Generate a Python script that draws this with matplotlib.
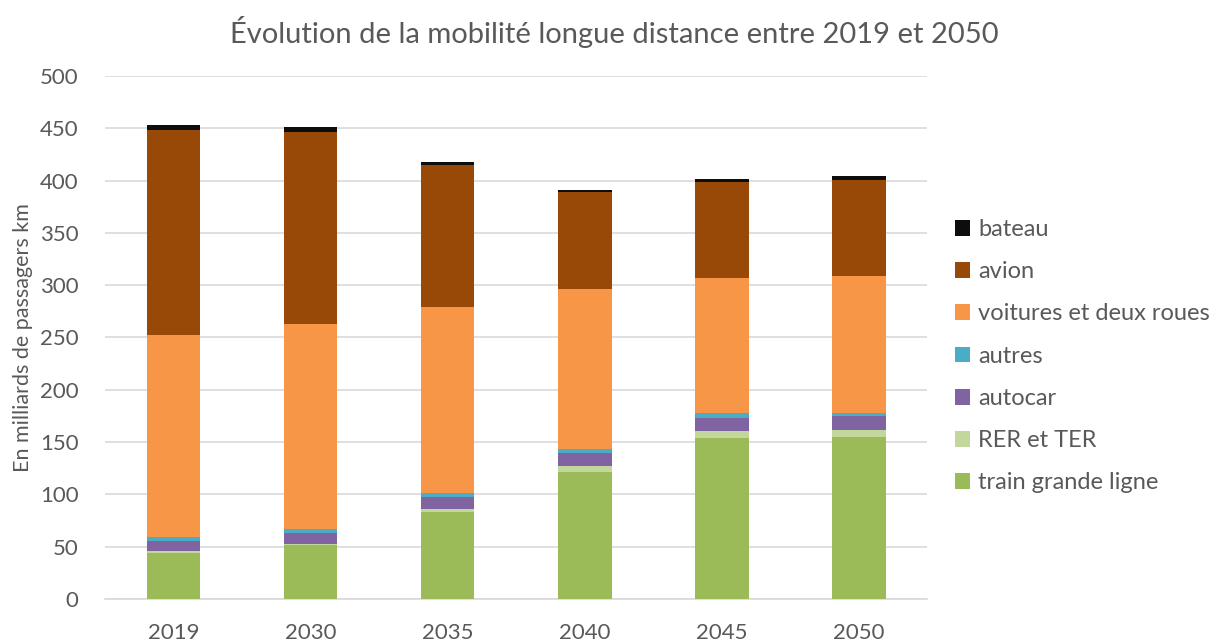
import matplotlib
matplotlib.use("Agg")
import matplotlib.pyplot as plt
import numpy as np

years = ["2019", "2030", "2035", "2040", "2045", "2050"]
train_grande_ligne = [44.4, 51.4, 82.9, 121.2, 153.7, 155.0]
rer_ter = [1.2, 1.6, 3.6, 6.0, 6.7, 7.0]
autocar = [9.9, 10.1, 11.1, 12.5, 12.7, 12.5]
autres = [3.8, 3.6, 3.5, 3.8, 4.5, 3.4]
voitures = [192.7, 196.1, 178.2, 152.7, 129.5, 130.5]
avion = [196.2, 183.3, 135.6, 92.5, 91.8, 92.1]
bateau = [4.6, 4.9, 3.1, 1.9, 2.6, 3.5]

series = [
    ("train grande ligne", train_grande_ligne, "#9BBB59"),
    ("RER et TER", rer_ter, "#C3D69B"),
    ("autocar", autocar, "#8064A2"),
    ("autres", autres, "#4BACC6"),
    ("voitures et deux roues", voitures, "#F79646"),
    ("avion", avion, "#984807"),
    ("bateau", bateau, "#0D0D0D"),
]

plt.rcParams['font.family'] = ['Lato', 'DejaVu Sans']
txt = "#595959"

fig = plt.figure(figsize=(12.22, 6.43), dpi=100)
ax = fig.add_axes([0.086, 0.0684, 0.673, 0.8136])

x = np.arange(len(years))
bottom = np.zeros(len(years))
handles = []
for name, vals, col in series:
    b = ax.bar(x, vals, width=0.39, bottom=bottom, color=col, label=name, zorder=3)
    handles.append(b)
    bottom += np.array(vals)

ax.set_ylim(0, 500)
ax.set_xlim(-0.5, 5.5)
ax.set_yticks(range(0, 501, 50))
ax.set_xticks(x)
ax.set_xticklabels(years)
ax.tick_params(axis='both', length=0, labelsize=16, colors=txt)
ax.tick_params(axis='y', pad=19)
ax.tick_params(axis='x', pad=17)
ax.grid(axis='y', color="#D9D9D9", linewidth=1.2, zorder=0)
for s in ["top", "right", "left"]:
    ax.spines[s].set_visible(False)
ax.spines["bottom"].set_color("#D9D9D9")
ax.spines["bottom"].set_linewidth(1.2)

ax.set_ylabel("En milliards de passagers km", fontsize=15.5, color=txt, labelpad=5)

fig.text(0.503, 0.950, "Évolution de la mobilité longue distance entre 2019 et 2050",
         ha="center", va="center", fontsize=21, color=txt)

leg = fig.legend(handles[::-1], [s[0] for s in series][::-1], loc="center left",
                 bbox_to_anchor=(0.764, 0.446), frameon=False, fontsize=17,
                 handlelength=0.65, handleheight=0.65, handletextpad=0.35, labelspacing=0.9)
for t in leg.get_texts():
    t.set_color(txt)

fig.savefig("out.png", dpi=100)
